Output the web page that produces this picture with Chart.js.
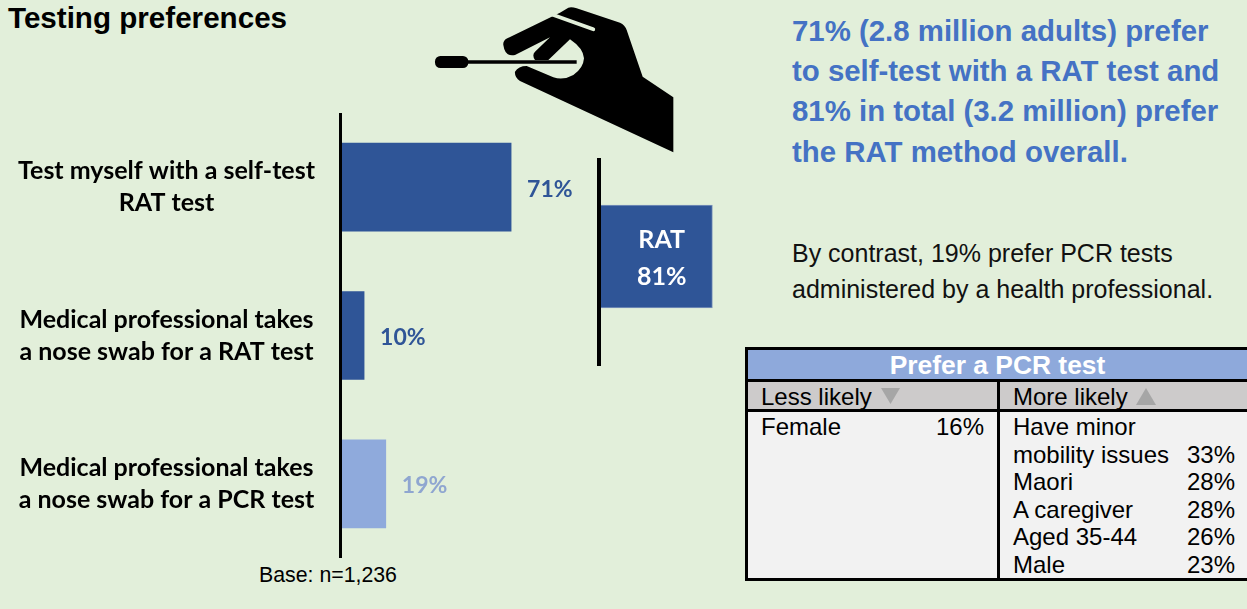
<!DOCTYPE html>
<html>
<head>
<meta charset="utf-8">
<title>Testing preferences</title>
<script src="https://cdn.jsdelivr.net/npm/chart.js@4/dist/chart.umd.min.js"></script>
<style>
html, body { margin: 0; padding: 0; }
body { width: 1247px; height: 609px; background: #E2EFDA; overflow: hidden; position: relative; font-family: "Liberation Sans", Arial, sans-serif; }
canvas, .txt, .box, svg { position: absolute; }
.txt { white-space: nowrap; }
#title { left: 8px; top: 1px; font-size: 29.6px; font-weight: bold; color: #000; }
#base { left: 259px; top: 563px; font-size: 21.3px; color: #000; }
.lead { left: 792px; font-size: 29.4px; font-weight: bold; color: #4472C4; }
.note { left: 792px; font-size: 25px; color: #111; }
.cell { font-size: 24px; color: #000; line-height: 28px; }
</style>
</head>
<body>
<div id="title" class="txt">Testing preferences</div>
<div id="base" class="txt">Base: n=1,236</div>

<!-- hand holding the swab -->
<svg style="left:420px;top:0" width="300" height="170" viewBox="0 0 900 510">
  <path fill="#000" d="M250 135 Q248 122 262 115 L395 50 L420 38 L445 23 Q455 20 470 25 L600 68 Q615 75 620 90 L668 230 L760 292 L760 457 L300 243 Q283 232 285 215 Q295 198 320 198 L400 232 Q430 242 460 225 Q490 205 492 175 Q490 145 450 118 L385 180 L345 180 Q335 165 345 155 L390 112 L285 165 Q255 172 250 135 Z"/>
  <path stroke="#E2EFDA" stroke-width="11" stroke-linecap="round" d="M392 42 L520 88"/>
  <path stroke="#000" stroke-width="11" d="M130 186 L470 186"/>
  <rect x="45" y="168" width="100" height="36" rx="16" fill="#000"/>
</svg>

<canvas id="chartPrefs" width="581" height="445" style="left:0;top:113px"></canvas>
<canvas id="chartRat" width="150" height="208" style="left:589px;top:158px"></canvas>

<div id="leadText"></div>
<div id="noteText"></div>
<div id="pcrTable"></div>

<script>
// Bars
var categories = [
    ["Test myself with a self-test", "RAT test"],
    ["Medical professional takes", "a nose swab for a RAT test"],
    ["Medical professional takes", "a nose swab for a PCR test"]
];
var prefValues = [71, 10, 19];
var barColors = ["#2F5597", "#2F5597", "#8FAADC"];
var labelColors = ["#2F5597", "#2F5597", "#8FA6D0"];

var ratLabels = ["RAT"];
var ratValues = [81];

// Text blocks
var leadLines = [
    "71% (2.8 million adults) prefer",
    "to self-test with a RAT test and",
    "81% in total (3.2 million) prefer",
    "the RAT method overall."
];
var noteLines = [
    "By contrast, 19% prefer PCR tests",
    "administered by a health professional."
];

// Table rows
var lessLikelyNames = ["Female"];
var lessLikelyValues = ["16%"];
var moreLikelyNames = ["Have minor", "mobility issues", "Maori", "A caregiver", "Aged 35-44", "Male"];
var moreLikelyValues = ["", "33%", "28%", "28%", "26%", "23%"];

var labelFont = "Lato, Carlito, sans-serif";

// Prints the percentage just past the end of each bar
var valueLabels = {
    id: "valueLabels",
    afterDatasetsDraw: function(chart) {
        var ctx = chart.ctx;
        var bars = chart.getDatasetMeta(0).data;
        ctx.save();
        ctx.font = "bold 23px " + labelFont;
        ctx.textAlign = "left";
        ctx.textBaseline = "middle";
        for (var i = 0; i < bars.length; i++) {
            ctx.fillStyle = labelColors[i];
            ctx.fillText(prefValues[i] + "%", bars[i].x + 16, bars[i].y + 2);
        }
        ctx.restore();
    }
};

// The RAT axis runs below the plot area, and the label sits inside the bar
var ratDecor = {
    id: "ratDecor",
    afterDatasetsDraw: function(chart) {
        var ctx = chart.ctx;
        var bar = chart.getDatasetMeta(0).data[0];
        ctx.save();
        ctx.strokeStyle = "#000";
        ctx.lineWidth = 4;
        ctx.beginPath();
        ctx.moveTo(chart.chartArea.left, 0);
        ctx.lineTo(chart.chartArea.left, chart.height);
        ctx.stroke();
        ctx.fillStyle = "#fff";
        ctx.font = "bold 25px " + labelFont;
        ctx.textAlign = "center";
        ctx.textBaseline = "middle";
        var mid = (bar.x + bar.base) / 2 + 6;
        ctx.fillText(ratLabels[0], mid, bar.y - 17);
        ctx.fillText(ratValues[0] + "%", mid, bar.y + 20);
        ctx.restore();
    }
};

function prefsChart() {
    new Chart("chartPrefs", {
        type: "bar",
        data: {
            labels: categories,
            datasets: [{ data: prefValues, backgroundColor: barColors, barThickness: 88 }]
        },
        options: {
            indexAxis: "y",
            responsive: false,
            animation: false,
            plugins: { legend: { display: false }, tooltip: { enabled: false } },
            scales: {
                x: { display: false, min: 0, max: 100 },
                y: {
                    grid: { display: false },
                    border: { display: true, color: "#000", width: 3, z: 1 },
                    ticks: {
                        crossAlign: "center",
                        color: "#000",
                        padding: 17,
                        font: { family: labelFont, size: 25, weight: "bold", lineHeight: 1.28 }
                    },
                    afterFit: function(scale) {
                        // axis sits at a fixed spot, plot fills the canvas height
                        scale.width = 340;
                        scale.paddingTop = 0;
                        scale.paddingBottom = 0;
                    }
                }
            }
        },
        plugins: [valueLabels]
    });
}

function ratChart() {
    new Chart("chartRat", {
        type: "bar",
        data: {
            labels: ratLabels,
            datasets: [{
                data: ratValues,
                backgroundColor: "#2F5597",
                borderColor: "#7F96BC",
                borderWidth: 1,
                barThickness: 103
            }]
        },
        options: {
            indexAxis: "y",
            responsive: false,
            animation: false,
            layout: { padding: { left: 10, bottom: 11 } },
            plugins: { legend: { display: false }, tooltip: { enabled: false } },
            scales: {
                x: { display: false, min: 0, max: 100 },
                y: {
                    grid: { display: false },
                    border: { display: false },
                    ticks: { display: false },
                    afterFit: function(scale) { scale.width = 0; }
                }
            }
        },
        plugins: [ratDecor]
    });
}

function addText(parent, cls, left, top, text, right) {
    var el = document.createElement("div");
    el.className = "txt " + cls;
    if (left !== null) el.style.left = left + "px";
    if (right !== undefined) el.style.right = right + "px";
    el.style.top = top + "px";
    el.textContent = text;
    parent.appendChild(el);
    return el;
}

function addBox(parent, left, top, width, height, color) {
    var el = document.createElement("div");
    el.className = "box";
    el.style.cssText = "left:" + left + "px;top:" + top + "px;width:" + width + "px;height:" + height + "px;background:" + color;
    parent.appendChild(el);
    return el;
}

function buildTexts() {
    var lead = document.getElementById("leadText");
    for (var i = 0; i < leadLines.length; i++) {
        addText(lead, "lead", null, 13.5 + i * 40.4, leadLines[i]);
    }
    var note = document.getElementById("noteText");
    for (var j = 0; j < noteLines.length; j++) {
        addText(note, "note", null, 239 + j * 36, noteLines[j]);
    }
}

function buildTable() {
    var t = document.getElementById("pcrTable");
    addBox(t, 745, 347, 502, 234, "#000");
    addBox(t, 748, 350, 499, 29, "#8EA9DB");
    addBox(t, 748, 382, 249, 27, "#CDCBCB");
    addBox(t, 1000, 382, 247, 27, "#CDCBCB");
    addBox(t, 748, 412, 249, 166, "#F2F2F2");
    addBox(t, 1000, 412, 247, 166, "#F2F2F2");

    var head = addText(t, "cell", 748, 351, "Prefer a PCR test");
    head.style.cssText += ";width:499px;text-align:center;color:#fff;font-weight:bold;font-size:26.4px";

    addText(t, "cell", 761, 383, "Less likely");
    addText(t, "cell", 1013, 383, "More likely");
    addBox(t, 881, 388, 19, 16, "#A6A6A6").style.clipPath = "polygon(0 0, 100% 0, 50% 100%)";
    addBox(t, 1136, 388, 20, 17, "#A6A6A6").style.clipPath = "polygon(50% 0, 100% 100%, 0 100%)";

    var i;
    for (i = 0; i < lessLikelyNames.length; i++) {
        addText(t, "cell", 761, 413 + i * 27.6, lessLikelyNames[i]);
        addText(t, "cell", null, 413 + i * 27.6, lessLikelyValues[i], 1247 - 984);
    }
    for (i = 0; i < moreLikelyNames.length; i++) {
        addText(t, "cell", 1013, 413 + i * 27.6, moreLikelyNames[i]);
        if (moreLikelyValues[i]) {
            addText(t, "cell", null, 413 + i * 27.6, moreLikelyValues[i], 1247 - 1235);
        }
    }
}

// Se ejecuta al cargar la pagina
prefsChart();
ratChart();
buildTexts();
buildTable();
</script>
</body>
</html>
